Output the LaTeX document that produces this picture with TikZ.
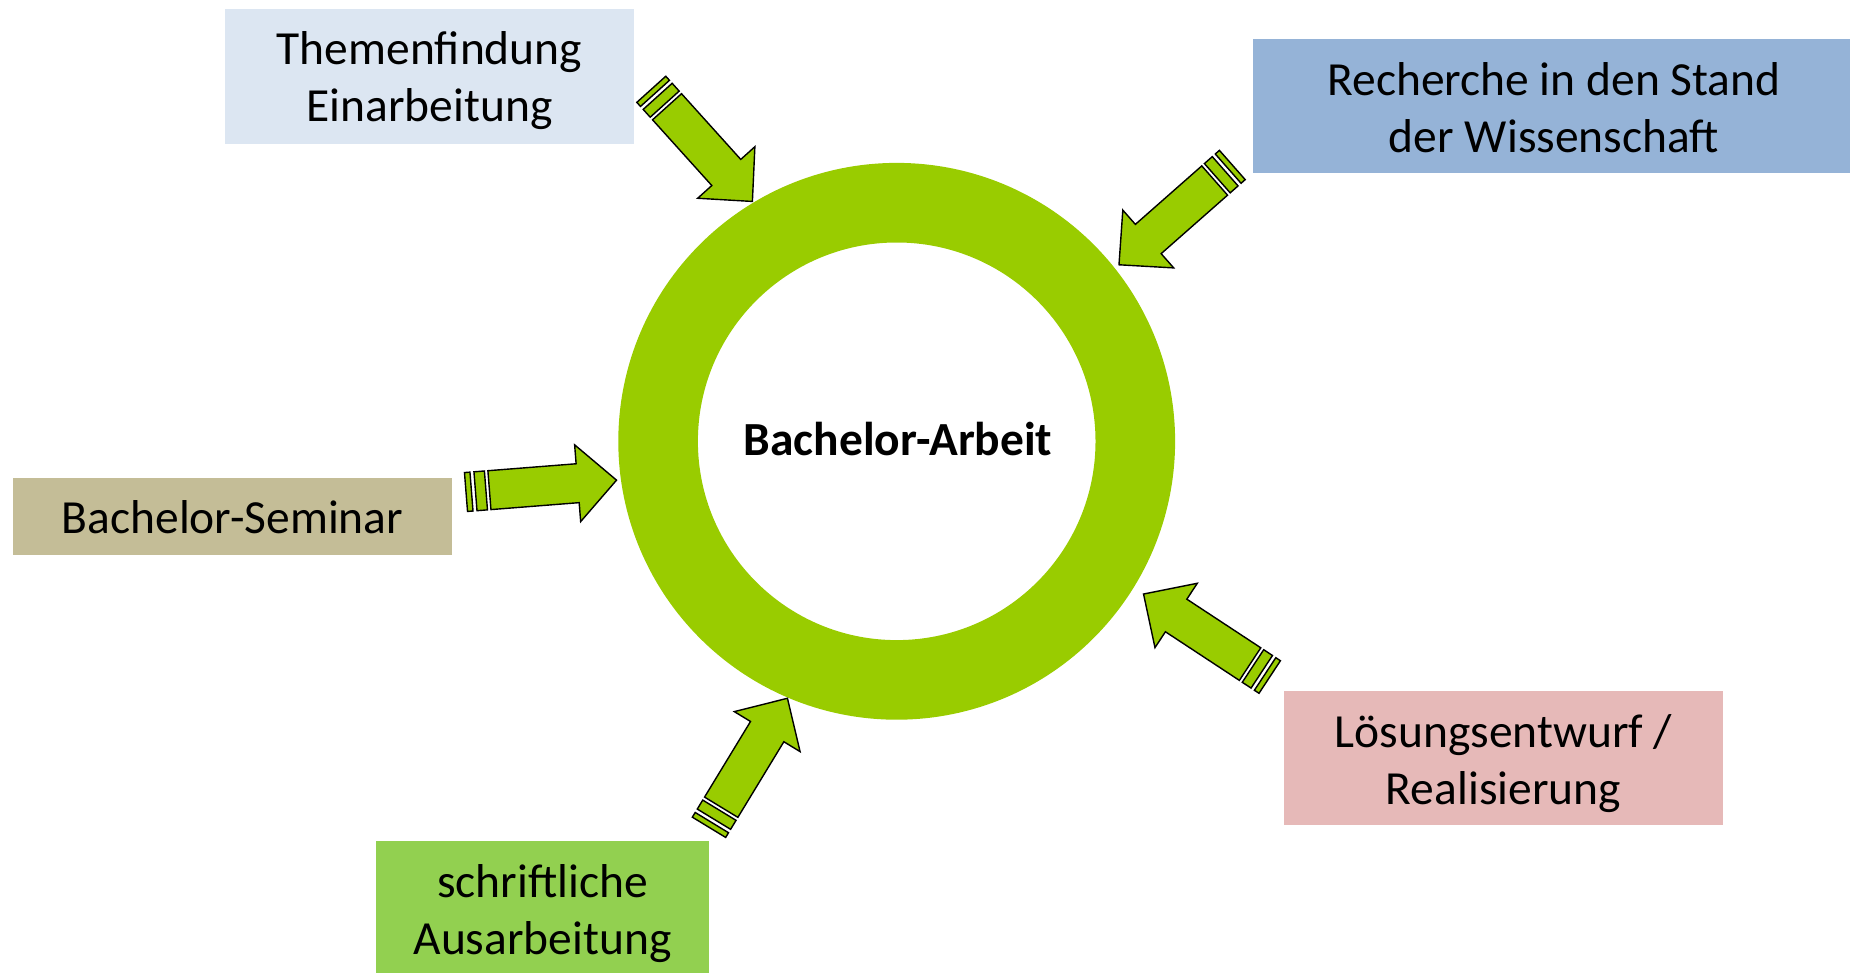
\documentclass[tikz,border=0pt]{standalone}
\usepackage{fontspec}
\setmainfont{Carlito}
\definecolor{ringgreen}{HTML}{99CC00}
\definecolor{boxA}{HTML}{DCE6F2}
\definecolor{boxB}{HTML}{95B3D7}
\definecolor{boxC}{HTML}{C4BD97}
\definecolor{boxD}{HTML}{92D050}
\definecolor{boxE}{HTML}{E6B9B8}
\tikzset{
  arrowpart/.style={fill=ringgreen, draw=black, line width=1.4pt, line join=miter},
  stripedarrow/.pic={
    \path[arrowpart] (0,-19.5) rectangle (5.5,19.5);
    \path[arrowpart] (9.5,-19.5) rectangle (20,19.5);
    \path[arrowpart] (23.5,-19.5) -- (112,-19.5) -- (112,-38.5) -- (151,0) -- (112,38.5) -- (112,19.5) -- (23.5,19.5) -- cycle;
  },
  phase/.style={inner sep=0pt, outer sep=0pt, align=center, font=\fontsize{47.5}{57}\selectfont},
}
\begin{document}
\begin{tikzpicture}[x=1pt,y=1pt]
\useasboundingbox (0,0) rectangle (1850,-973);
% boxes
\fill[boxA] (225,-9) rectangle (634,-144);
\fill[boxB] (1253,-39) rectangle (1850,-173);
\fill[boxC] (13,-478) rectangle (452,-555);
\fill[boxD] (376,-841) rectangle (709,-973);
\fill[boxE] (1284,-691) rectangle (1723,-825);
\node[phase] (themen) at (429.5,-81) {Themenfindung\\Einarbeitung};
\node[phase] (recherche) at (1554,-108) {Recherche in den Stand\\der Wissenschaft};
\node[phase] (seminar) at (232.5,-517) {Bachelor-Seminar};
\node[phase] (schrift) at (542.5,-913.5) {schriftliche\\Ausarbeitung};
\node[phase] (loesung) at (1503.5,-763.5) {Lösungsentwurf /\\Realisierung};
% ring
\node[circle, draw=ringgreen, line width=79.6pt, minimum size=477.2pt, inner sep=0pt] (ring) at (896.7,-441.3) {};
\node[font=\bfseries\fontsize{47.5}{57}\selectfont, inner sep=0pt] (center) at (898,-439) {Bachelor-Arbeit};
% arrows
\coordinate (a1) at (651.3,-89.3);
\coordinate (a2) at (1232.3,-165);
\coordinate (a3) at (466,-492);
\coordinate (a4) at (709,-827.3);
\coordinate (a5) at (1269.7,-677);
\pic[rotate=-47.97] at (a1) {stripedarrow};
\pic[rotate=-138.63] at (a2) {stripedarrow};
\pic[rotate=4.5] at (a3) {stripedarrow};
\pic[rotate=58.7] at (a4) {stripedarrow};
\pic[rotate=146.67] at (a5) {stripedarrow};
\end{tikzpicture}
\end{document}
